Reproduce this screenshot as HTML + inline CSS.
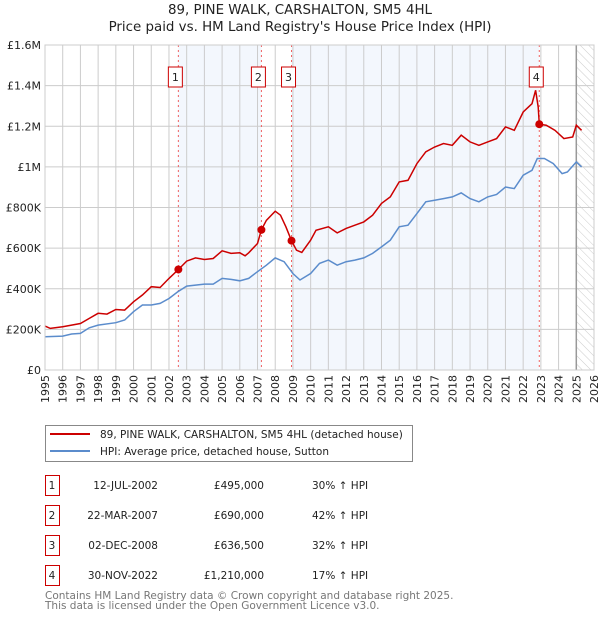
<!DOCTYPE html>
<html><head><meta charset="utf-8">
<style>
body{margin:0;background:#fff;font-family:"DejaVu Sans","Liberation Sans",sans-serif;}
svg text{font-family:"DejaVu Sans","Liberation Sans",sans-serif;}
</style></head>
<body>
<svg id="c" width="600" height="620" xmlns="http://www.w3.org/2000/svg">
<defs>
<pattern id="hatch" width="6" height="6" patternUnits="userSpaceOnUse" patternTransform="rotate(-45)">
<line x1="0" y1="0" x2="0" y2="6" stroke="#ccc" stroke-width="1"/>
</pattern>
</defs>
<text x="300" y="14" text-anchor="middle" font-size="13.4" fill="#222">89, PINE WALK, CARSHALTON, SM5 4HL</text>
<text x="300" y="31" text-anchor="middle" font-size="13.4" fill="#222">Price paid vs. HM Land Registry's House Price Index (HPI)</text>
<g id="plot"></g>
<g>
<rect x="45.5" y="425.5" width="367" height="36" fill="#fff" stroke="#888"/>
<line x1="50" y1="434" x2="90" y2="434" stroke="#cc0000" stroke-width="2"/>
<text x="100" y="438" font-size="10.5" fill="#222">89, PINE WALK, CARSHALTON, SM5 4HL (detached house)</text>
<line x1="50" y1="451" x2="90" y2="451" stroke="#5b8ccc" stroke-width="2"/>
<text x="100" y="455" font-size="10.5" fill="#222">HPI: Average price, detached house, Sutton</text>
</g>
<g id="table"></g>
<text x="45" y="599" font-size="10.5" fill="#777">Contains HM Land Registry data © Crown copyright and database right 2025.</text>
<text x="45" y="609" font-size="10.5" fill="#777">This data is licensed under the Open Government Licence v3.0.</text>
</svg>
<script>
const yearTicks=[1995,1996,1997,1998,1999,2000,2001,2002,2003,2004,2005,2006,2007,2008,2009,2010,2011,2012,2013,2014,2015,2016,2017,2018,2019,2020,2021,2022,2023,2024,2025,2026];
const valueTicks=[0,200000,400000,600000,800000,1000000,1200000,1400000,1600000];
const valueTickLabels=["£0","£200K","£400K","£600K","£800K","£1M","£1.2M","£1.4M","£1.6M"];
const redYears=[1995,1995.3,1996,1997,1997.5,1998,1998.5,1999,1999.5,2000,2000.5,2001,2001.5,2002,2002.53,2003,2003.5,2004,2004.5,2005,2005.5,2006,2006.3,2006.5,2007,2007.22,2007.5,2008,2008.3,2008.6,2008.92,2009.2,2009.5,2010,2010.3,2011,2011.5,2012,2012.5,2013,2013.5,2014,2014.5,2015,2015.5,2016,2016.5,2017,2017.5,2018,2018.5,2019,2019.5,2020,2020.5,2021,2021.5,2022,2022.5,2022.7,2022.85,2022.91,2023.3,2023.8,2024.3,2024.8,2025,2025.3];
const redValues=[216000,205000,213000,229000,254000,279000,275000,298000,295000,336000,369000,410000,406000,451000,495000,536000,552000,544000,549000,587000,574000,577000,562000,577000,623000,690000,737000,782000,762000,705000,636500,590000,579000,639000,688000,705000,675000,697000,713000,729000,762000,820000,852000,926000,934000,1016000,1074000,1098000,1115000,1106000,1156000,1123000,1106000,1123000,1139000,1197000,1180000,1270000,1311000,1377000,1295000,1210000,1205000,1180000,1139000,1147000,1205000,1180000];
const hpiYears=[1995,1996,1996.5,1997,1997.5,1998,1999,1999.5,2000,2000.5,2001,2001.5,2002,2002.5,2003,2004,2004.5,2005,2005.5,2006,2006.5,2007,2007.5,2008,2008.5,2009,2009.4,2010,2010.5,2011,2011.5,2012,2012.5,2013,2013.5,2014,2014.5,2015,2015.5,2016,2016.5,2017,2017.5,2018,2018.5,2019,2019.5,2020,2020.5,2021,2021.5,2022,2022.5,2022.8,2023.2,2023.7,2024.2,2024.5,2025,2025.3];
const hpiValues=[164000,167000,177000,180000,208000,221000,233000,246000,287000,320000,320000,328000,352000,385000,413000,423000,423000,451000,446000,439000,451000,484000,516000,552000,533000,475000,443000,475000,525000,541000,516000,533000,541000,552000,574000,606000,639000,705000,713000,770000,828000,836000,844000,852000,872000,844000,828000,852000,864000,901000,893000,959000,983000,1041000,1041000,1016000,967000,975000,1024000,1000000];
const saleYears=[2002.53,2007.22,2008.92,2022.91];
const salePrices=[495000,690000,636500,1210000];
const saleLabels=["1","2","3","4"];
const saleDates=["12-JUL-2002","22-MAR-2007","02-DEC-2008","30-NOV-2022"];
const salePriceText=["£495,000","£690,000","£636,500","£1,210,000"];
const saleHpiText=["30% ↑ HPI","42% ↑ HPI","32% ↑ HPI","17% ↑ HPI"];
const dataEndYear=2025.0;

const X0=45,X1=594,Y0=370,Y1=45;
const x=y=>X0+(y-1995)/(2026-1995)*(X1-X0);
const yv=v=>Y0-v/1600000*(Y0-Y1);
const NS="http://www.w3.org/2000/svg";
const plot=document.getElementById('plot');
function mk(tag,attrs,parent){const e=document.createElementNS(NS,tag);for(const k in attrs)e.setAttribute(k,attrs[k]);(parent||plot).appendChild(e);return e;}

for(let i=0;i<saleYears.length;i+=2){
 const x1=x(saleYears[i]),x2=i+1<saleYears.length?x(saleYears[i+1]):x(dataEndYear);
 const r=mk('rect',{x:x1,y:Y1,width:x2-x1,height:Y0-Y1,fill:'#eef3fc',opacity:0.7});
 
 
}
const h=mk('rect',{x:x(dataEndYear),y:Y1,width:X1-x(dataEndYear),height:Y0-Y1,fill:'url(#hatch)'});


yearTicks.forEach(t=>{
 const l=mk('line',{x1:x(t),x2:x(t),y1:Y1,y2:Y0,stroke:'#ccc','stroke-width':1});
 
 
 const tx=mk('text',{x:0,y:0,'font-size':11,fill:'#222','text-anchor':'end',transform:`translate(${x(t)+4},${Y0+5}) rotate(-90)`});
 tx.textContent=t;
 
 
});
valueTicks.forEach((v,i)=>{
 const l=mk('line',{x1:X0,x2:X1,y1:yv(v),y2:yv(v),stroke:'#ccc','stroke-width':1});
 
 
 const tx=mk('text',{x:X0-4,y:yv(v)+4,'font-size':11,fill:'#222','text-anchor':'end'});
 tx.textContent=valueTickLabels[i];
 
 
});
const ev=mk('line',{x1:x(dataEndYear),x2:x(dataEndYear),y1:Y1,y2:Y0,stroke:'#999','stroke-width':1.5});


saleYears.forEach((s,i)=>{
 const l=mk('line',{x1:x(s),x2:x(s),y1:Y1,y2:Y0,stroke:'#f06060','stroke-width':1,'stroke-dasharray':'2,3'});
 
 
 const bx=x(s)-7;
 const r=mk('rect',{x:bx-3,y:67,width:14,height:20,fill:'#fff',stroke:'#cc0000'});
 
 
 const t=mk('text',{x:bx+4,y:81,'font-size':11,fill:'#222','text-anchor':'middle'});
 t.textContent=saleLabels[i];
 
 
});
function path(xs,vs){return xs.map((a,i)=>(i?'L':'M')+x(a).toFixed(1)+','+yv(vs[i]).toFixed(1)).join('');}
const hp=mk('path',{d:path(hpiYears,hpiValues),fill:'none',stroke:'#5b8ccc','stroke-width':1.5});


const rp=mk('path',{d:path(redYears,redValues),fill:'none',stroke:'#cc0000','stroke-width':1.5});


saleYears.forEach((s,i)=>{
 const c=mk('circle',{cx:x(s),cy:yv(salePrices[i]),r:4,fill:'#cc0000'});
 
 
});
const fr=mk('rect',{x:X0,y:Y1,width:X1-X0,height:Y0-Y1,fill:'none',stroke:'#ccc'});



const tb=document.getElementById('table');
saleLabels.forEach((lab,i)=>{
 const ty=475+i*30;
 const r=mk('rect',{x:45.5,y:ty+0.5,width:14,height:20,fill:'#fff',stroke:'#cc0000'},tb);
 
 
 const items=[[52,'middle',lab,'row-number'],[158,'end',saleDates[i],'row-date'],[264,'end',salePriceText[i],'row-price'],[312,'start',saleHpiText[i],'row-hpi']];
 items.forEach(it=>{
  const t=mk('text',{x:it[0],y:ty+14,'font-size':10.5,fill:'#222','text-anchor':it[1]},tb);
  t.textContent=it[2];
  
  
 });
});
</script>
</body></html>
